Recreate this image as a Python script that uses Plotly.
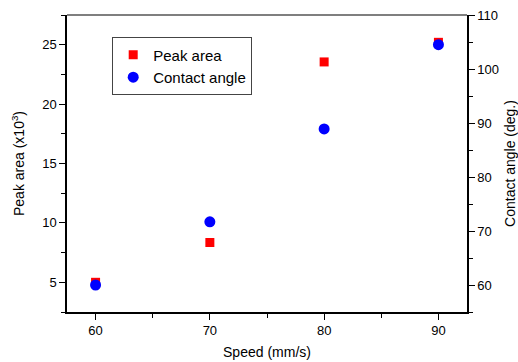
import plotly.graph_objects as go

speed = [60, 70, 80, 90]
peak_area = [5.0, 8.35, 23.55, 25.2]
contact_angle = [60.0, 71.7, 88.9, 104.5]

x_ticks = [60, 70, 80, 90]
y1_ticks = [5, 10, 15, 20, 25]
y2_ticks = [60, 70, 80, 90, 100, 110]

tickfont = dict(family="Liberation Sans, Arial", size=13, color="black")
titlefont = dict(family="Liberation Sans, Arial", size=14, color="black")

fig = go.Figure()
fig.add_trace(go.Scatter(x=speed, y=peak_area, mode="markers", name="Peak area",
                         marker=dict(symbol="square", size=9, color="#ff0000"), yaxis="y"))
fig.add_trace(go.Scatter(x=speed, y=contact_angle, mode="markers", name="Contact angle",
                         marker=dict(symbol="circle", size=11, color="#0000ff"), yaxis="y2"))

axis_common = dict(showgrid=False, zeroline=False, showline=True, linecolor="black", linewidth=1.5,
                   ticks="outside", ticklen=6, tickwidth=1.2, tickcolor="black", tickfont=tickfont,
                   automargin=False)

fig.update_layout(
    width=518, height=362,
    margin=dict(l=67, r=51, t=15, b=50),
    plot_bgcolor="white", paper_bgcolor="white",
    xaxis=dict(range=[57.5, 92.5], tickvals=x_ticks, mirror=False,
               title=dict(text="Speed (mm/s)", font=titlefont, standoff=10),
               minor=dict(ticks="outside", ticklen=4, tickwidth=1.2, tickcolor="black", dtick=5, tick0=0),
               **axis_common),
    yaxis=dict(range=[2.5, 27.5], tickvals=y1_ticks,
               title=dict(text="Peak area (x10<sup>3</sup>)", font=titlefont, standoff=14),
               minor=dict(ticks="outside", ticklen=4, tickwidth=1.2, tickcolor="black", dtick=2.5, tick0=0),
               **axis_common),
    yaxis2=dict(range=[55, 110], tickvals=y2_ticks, overlaying="y", side="right",
                title=dict(text="Contact angle (deg.)", font=titlefont, standoff=10),
                minor=dict(ticks="outside", ticklen=4, tickwidth=1.2, tickcolor="black", dtick=5, tick0=0),
                **axis_common),
    legend=dict(x=0.1125, y=0.925, xanchor="left", yanchor="top",
                bordercolor="#444", borderwidth=1.2, bgcolor="white",
                font=dict(family="Liberation Sans, Arial", size=15, color="black"),
                itemwidth=30, tracegroupgap=0),
    showlegend=True,
)
# top frame line
fig.update_layout(shapes=[dict(type="line", xref="paper", yref="paper", x0=0, x1=1, y0=1, y1=1,
                               line=dict(color="#555", width=1.5))])

fig.write_html("out.html", config={"displayModeBar": False},
               post_script="document.body.style.margin='0';document.body.style.overflow='hidden';")
